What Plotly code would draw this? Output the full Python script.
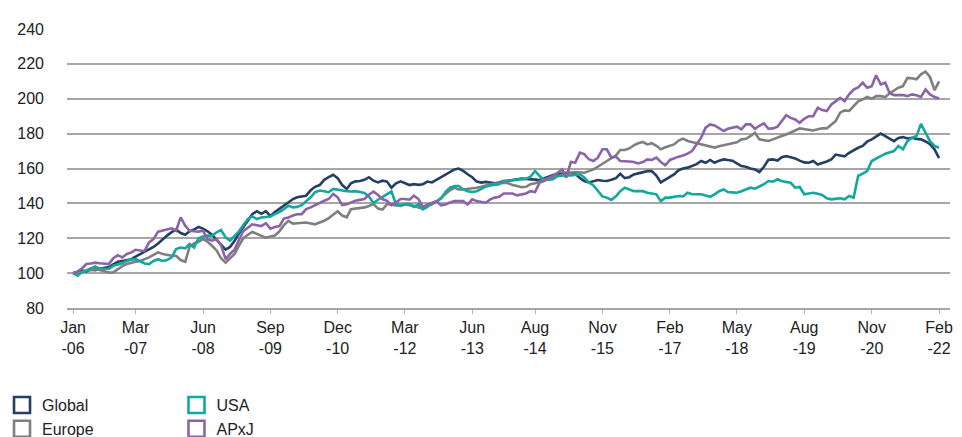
import plotly.graph_objects as go
import pandas as pd

months = pd.date_range("2006-01-01", periods=194, freq="MS")

global_vals = [
    100, 100.5, 101.5, 101, 102, 101.7, 102.5, 103, 103.5, 105, 106.5, 107, 107.5, 108, 109.5, 111, 112, 113.5, 115, 117,
    119.5, 121.5, 123.5, 125, 123, 122, 124, 125, 126.5, 125.5, 124, 122, 119, 116, 113.5, 115, 118.5, 123, 126.5, 130,
    133.8, 135.5, 134, 135.5, 132.8, 135, 137, 138.6, 140.5, 142.5, 143.5, 144, 144.4, 147.5, 149.5, 150.5, 153.5, 155, 156.4, 154.5,
    150.5, 148.3, 151.5, 152.6, 152.8, 153.5, 155, 153, 152, 153, 152.5, 149, 151.5, 152.6, 151.8, 150.5, 151, 150.6, 151, 152.5,
    152, 153.5, 154.7, 156.5, 158, 159.5, 160, 158.6, 156.7, 155, 152.5, 151.9, 152.3, 151.8, 151.5, 152, 152.8, 153, 153.4, 154,
    154.2, 154, 154, 153.6, 153.4, 154.5, 155.3, 156.2, 156.7, 157.2, 157.5, 157.6, 157, 154.5, 152.8, 152, 152.5, 153.4, 153, 152.8,
    153.5, 154.5, 157, 154.5, 155, 156.6, 157.2, 157.8, 158.5, 158.5, 156, 152, 153.5, 155, 156.6, 159, 160, 160.5, 161.5, 162.5,
    164.3, 163.3, 164.9, 163.3, 164.5, 165.2, 164.9, 164.5, 163, 161.4, 161, 160, 159.5, 158, 161, 165, 165.2, 164.6, 166.5, 167.1,
    166.5, 165.8, 164.5, 163.5, 163.3, 164.3, 162.3, 163, 164, 165.2, 168, 167.5, 167, 169, 170.5, 171.9, 172.9, 175.5, 176.7, 178.5,
    180, 178.6, 177, 175.7, 177.5, 178, 177.2, 177.6, 177, 176.7, 175.5, 174, 171, 166,
]

europe_vals = [
    100, 100.4, 100.5, 101.5, 102, 102.3, 101.8, 101.3, 100.4, 100.4, 102.3, 104, 105.2, 106, 106.5, 107, 108, 109, 110.5, 111.9,
    111, 110.5, 110, 110, 107.5, 106.5, 115, 117, 118, 119.5, 118, 115.7, 113, 108.5, 106, 108.5, 111, 116, 120, 122,
    123.6, 122.5, 121.2, 120.3, 121, 121.6, 124, 127.5, 130, 128.4, 128.6, 128.6, 129, 128.5, 128, 129, 130, 131.5, 133.8, 135.5,
    133, 132, 136.7, 137, 137.1, 137.7, 138.5, 139.6, 137, 136.5, 139.6, 139, 138.8, 138.6, 139.4, 139, 138.6, 137.7, 137, 138.5,
    139.5, 141, 143.3, 145.5, 147.5, 149, 148, 148, 148.2, 148.5, 149, 149.5, 150.3, 151, 151.3, 151.7, 151.9, 151.5, 150.5, 150,
    149.3, 149.5, 151, 151.5, 152.5, 153.8, 154.5, 155, 155.7, 156.5, 157, 157.6, 158, 158, 157.6, 158.5, 159.5, 161, 162.5, 164.3,
    166, 167.5, 170.6, 170.6, 171.5, 173.3, 174.5, 175.2, 173.8, 174.5, 173, 171, 172.2, 173, 173.8, 176, 177.1, 175.8, 175.2, 174.8,
    174, 173.3, 172.9, 172, 172.8, 173.3, 173.7, 174.5, 175, 176.7, 177, 178.5, 180.5, 176.7, 176.2, 175.8, 176.7, 177.5, 178.6, 179.5,
    180.5, 181.8, 183, 182.6, 182.4, 181.8, 182.5, 183, 183, 185, 187.2, 192, 193.3, 193, 196, 198.5, 199.6, 201, 200, 201.5,
    201.5, 201, 203, 204.8, 206.3, 207.2, 212, 211.8, 211.2, 214, 215.5, 212.5, 205, 210,
]

usa_vals = [
    100, 98.5, 100.5, 101.5, 102.7, 103.8, 102.5, 102.3, 102.5, 104.2, 105, 105.7, 107, 107.8, 108, 106.8, 105.5, 105.2, 107, 108,
    107, 107.5, 109, 113.8, 114.7, 114.2, 116.7, 114.7, 120, 121, 121.5, 121.5, 123.4, 124.7, 120.5, 118.6, 121.5, 124.1, 127.6, 131,
    132.5, 131, 131.9, 132.2, 132.5, 133.8, 135, 136.7, 138.6, 137.7, 138, 139, 141, 143.5, 146.4, 147.4, 147, 146.4, 148.3, 147.8,
    147.4, 147, 146.8, 147, 146.5, 146, 144, 140.2, 142.1, 143.5, 145.4, 146.8, 139.6, 139, 139.6, 139.6, 138, 139.6, 136.6, 138,
    140.4, 141, 142.7, 146.5, 149, 150, 150, 148, 147, 146.5, 147, 148.5, 149.6, 150.3, 150.8, 151, 152.8, 153, 153.4, 153.8,
    154, 154.2, 155.3, 158.6, 155.7, 153.4, 153.6, 153.8, 155.7, 156, 156, 156, 156.3, 156.7, 154.8, 152, 150.3, 147, 144, 143.3,
    142, 144, 147, 149, 148, 147, 147, 147, 146.1, 145.7, 145.2, 141.3, 143.3, 143.3, 143.8, 144.2, 144, 146.1, 145.2, 145.2,
    145.2, 144.5, 143.8, 145.2, 147, 148, 146.5, 146.3, 146.1, 147, 148, 149, 148.4, 149.6, 151, 152.8, 152.4, 153.8, 152.8, 152.3,
    151.8, 149, 149.4, 145.2, 145.5, 146.1, 145.5, 144.8, 142.9, 142.3, 142.6, 142.9, 142.3, 144.2, 143.2, 155.7, 157, 158.5, 164.3, 165.5,
    167.1, 168.5, 169.2, 170, 172.9, 171, 175.7, 177.5, 178.6, 185.6, 180.5, 175.7, 173, 171.9,
]

apxj_vals = [
    100, 101, 102.5, 105.2, 105.5, 106, 105.7, 105.5, 105.2, 108.5, 110.3, 109, 111, 111.9, 113.4, 113, 112.8, 117.6, 119.5, 123.8,
    124.3, 125, 125.7, 124.3, 132, 127.2, 124.3, 124, 123.8, 124.3, 119.5, 118.6, 119.5, 116, 108, 111, 113.5, 119.3, 124.1, 126,
    128, 127.5, 127, 128.6, 125.5, 126.5, 127, 131.3, 131.9, 133, 133.8, 133.8, 136.7, 137.7, 139, 140.6, 141.5, 142.5, 145.4, 143.5,
    139, 139.5, 140.6, 141.5, 142, 142.5, 145, 146.8, 144.8, 142.5, 141.5, 139, 140.5, 142.5, 142.5, 142.1, 144.4, 142.5, 138, 139.4,
    140, 141.3, 138.9, 139.4, 140.5, 141.3, 141.3, 141.3, 139.4, 142.3, 141.3, 141, 140.4, 142.3, 143.3, 143.8, 145.7, 145.7, 145.7, 144.6,
    145.2, 145.7, 147, 146.5, 151.9, 152.8, 154.5, 155.7, 157.6, 159.5, 154.8, 163.8, 163.4, 169.1, 168.2, 165.3, 164.3, 166.2, 171, 171,
    166.2, 166.8, 164.3, 164.3, 164, 163.7, 162.9, 163.7, 165.2, 164.9, 166.2, 163.7, 161.8, 164.9, 166, 166.8, 167.5, 168.5, 170, 173.8,
    177.7, 183.4, 185.3, 184.7, 183, 181.5, 182.8, 183.4, 184, 182.4, 185.3, 185.3, 182.8, 184.5, 185.9, 182.8, 183, 184, 187.2, 190.6,
    189, 188.1, 186.2, 188.5, 190, 190, 194.8, 193.5, 192.9, 196.7, 198.5, 200.5, 198.6, 202.5, 205.3, 206.5, 209.2, 206.3, 207.2, 213.5,
    208.2, 209.2, 203.4, 202.1, 202.1, 202.1, 201.5, 202.5, 202, 201, 205.3, 202.5, 201, 200.2,
]

series_names = ["Global", "Europe", "USA", "APxJ"]
series_colors = ["#243f63", "#7f7f7f", "#13a89e", "#8b63a8"]

tick_dates = ["2006-01-01", "2007-03-01", "2008-06-01", "2009-09-01", "2010-12-01", "2012-03-01",
              "2013-06-01", "2014-08-01", "2015-11-01", "2017-02-01", "2018-05-01", "2019-08-01",
              "2020-11-01", "2022-02-01"]
tick_labels = ["Jan<br>-06", "Mar<br>-07", "Jun<br>-08", "Sep<br>-09", "Dec<br>-10", "Mar<br>-12",
               "Jun<br>-13", "Aug<br>-14", "Nov<br>-15", "Feb<br>-17", "May<br>-18", "Aug<br>-19",
               "Nov<br>-20", "Feb<br>-22"]
y_ticks = [80, 100, 120, 140, 160, 180, 200, 220, 240]

values = [global_vals, europe_vals, usa_vals, apxj_vals]

fig = go.Figure()
for name, vals, col in zip(series_names, values, series_colors):
    fig.add_trace(go.Scatter(x=months, y=vals, mode="lines", name=name,
                             line=dict(color=col, width=2.6), showlegend=False,
                             hoverinfo="x+y+name"))

legend_of = {"Global": "legend", "Europe": "legend", "USA": "legend2", "APxJ": "legend2"}
for name, col in zip(series_names, series_colors):
    fig.add_trace(go.Scatter(x=[None], y=[None], mode="markers", name=name,
                             marker=dict(symbol="square-open", size=16, color=col,
                                         line=dict(color=col, width=2.6)),
                             legend=legend_of[name], showlegend=True))

font_family = "Liberation Sans, Arial, sans-serif"
legend_common = dict(orientation="v", font=dict(size=16, color="#222222", family=font_family),
                     bgcolor="rgba(0,0,0,0)", tracegroupgap=0, itemwidth=30,
                     yanchor="top", xanchor="left")

fig.update_layout(
    width=962, height=437,
    margin=dict(l=59, r=20, t=21, b=137, autoexpand=False),
    paper_bgcolor="white", plot_bgcolor="white",
    font=dict(family=font_family, size=16, color="#222222"),
    xaxis=dict(type="date", range=["2005-11-21", "2022-04-16"],
               tickvals=tick_dates, ticktext=tick_labels, showgrid=False,
               showline=True, linecolor="#a6a6a6", linewidth=2,
               ticks="outside", ticklen=4, tickcolor="#b0b0b0", tickwidth=1,
               tickfont=dict(size=16, color="#222222"), zeroline=False, automargin=False),
    yaxis=dict(range=[80, 240], tickvals=y_ticks, showgrid=True,
               gridcolor="#a6a6a6", gridwidth=1.6, zeroline=False, showline=False,
               ticks="", ticklabelstandoff=22, automargin=False,
               tickfont=dict(size=16, color="#222222")),
    legend=dict(x=-0.0736, y=-0.287, **legend_common),
    legend2=dict(x=0.124, y=-0.287, **legend_common),
)

fig.write_html("out.html")
